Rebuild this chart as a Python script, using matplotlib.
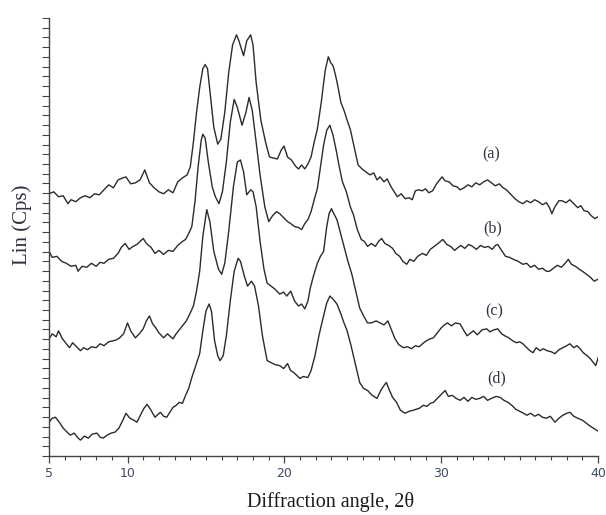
#!/usr/bin/env python3
"""XRD patterns (a)-(d), stacked, redrawn from the published figure."""

import matplotlib
matplotlib.use("Agg")
import matplotlib.pyplot as plt
from matplotlib.ticker import MultipleLocator, FixedLocator, NullFormatter

# ---------------------------------------------------------------- data
# (2theta, intensity in arbitrary Lin(Cps) units, offsets already stacked)

CURVE_A = [
    (5.0, 264), (5.3, 266), (5.6, 261), (5.9, 262), (6.2, 254), (6.4, 258),
    (6.7, 256), (7.0, 260), (7.3, 262), (7.6, 260), (7.9, 264), (8.2, 263),
    (8.5, 268), (8.8, 273), (9.1, 270), (9.4, 278), (9.7, 280), (9.9, 281),
    (10.2, 274), (10.5, 275), (10.8, 278), (11.1, 288), (11.4, 275), (11.7, 270),
    (12.0, 266), (12.3, 264), (12.6, 268), (12.9, 265), (13.2, 276), (13.5, 280),
    (13.8, 283), (14.0, 291), (14.2, 316), (14.4, 346), (14.6, 371), (14.8, 390),
    (14.95, 394), (15.1, 390), (15.3, 361), (15.5, 331), (15.75, 314), (15.95, 319),
    (16.2, 346), (16.45, 386), (16.7, 414), (16.95, 424), (17.1, 418), (17.4, 403),
    (17.6, 418), (17.85, 424), (18.0, 414), (18.2, 376), (18.5, 338), (18.8, 316),
    (19.05, 301), (19.3, 300), (19.55, 299), (19.8, 308), (19.98, 312), (20.2, 301),
    (20.45, 298), (20.7, 292), (20.9, 289), (21.1, 293), (21.3, 289), (21.5, 294),
    (21.7, 301), (21.9, 316), (22.1, 329), (22.35, 356), (22.6, 388), (22.8, 402),
    (22.95, 396), (23.1, 393), (23.25, 384), (23.4, 373), (23.6, 356), (23.8, 348),
    (24.0, 338), (24.2, 329), (24.45, 311), (24.7, 293), (24.95, 289), (25.2, 286),
    (25.45, 283), (25.7, 285), (25.9, 278), (26.1, 281), (26.35, 276), (26.55, 279),
    (26.8, 271), (27.0, 266), (27.2, 261), (27.45, 264), (27.7, 259), (27.95, 260),
    (28.15, 258), (28.35, 267), (28.55, 268), (28.8, 267), (29.0, 269), (29.2, 265),
    (29.45, 267), (29.7, 274), (29.9, 278), (30.05, 281), (30.25, 277), (30.5, 276),
    (30.75, 272), (31.0, 271), (31.2, 268), (31.45, 270), (31.7, 273), (31.95, 271),
    (32.2, 275), (32.45, 273), (32.7, 276), (32.95, 278), (33.2, 275), (33.45, 272),
    (33.7, 274), (33.95, 270), (34.15, 268), (34.4, 264), (34.7, 259), (34.95, 256),
    (35.2, 254), (35.45, 257), (35.7, 255), (35.95, 258), (36.2, 256), (36.45, 253),
    (36.7, 255), (36.9, 250), (37.05, 244), (37.25, 251), (37.5, 257), (37.7, 257),
    (37.95, 255), (38.2, 258), (38.45, 254), (38.7, 250), (38.9, 252), (39.1, 247),
    (39.35, 246), (39.55, 242), (39.8, 239), (40.0, 241),
]

CURVE_B = [
    (5.0, 206), (5.2, 200), (5.5, 201), (5.8, 196), (6.1, 194), (6.4, 191),
    (6.7, 192), (6.85, 186), (7.1, 191), (7.4, 190), (7.7, 194), (8.0, 191),
    (8.25, 195), (8.5, 194), (8.8, 198), (9.1, 199), (9.4, 204), (9.6, 210),
    (9.85, 214), (10.1, 208), (10.35, 211), (10.6, 213), (10.8, 216), (11.0, 219),
    (11.2, 214), (11.5, 210), (11.75, 204), (12.0, 207), (12.3, 203), (12.6, 207),
    (12.9, 206), (13.2, 212), (13.5, 216), (13.7, 218), (13.9, 224), (14.1, 231),
    (14.3, 256), (14.5, 291), (14.7, 318), (14.8, 324), (14.95, 320), (15.15, 296),
    (15.4, 271), (15.6, 261), (15.83, 254), (16.05, 266), (16.3, 296), (16.55, 336),
    (16.8, 359), (17.0, 351), (17.3, 333), (17.55, 346), (17.75, 361), (17.95, 348),
    (18.2, 316), (18.45, 283), (18.75, 251), (19.0, 236), (19.25, 242), (19.5, 246),
    (19.7, 244), (19.95, 240), (20.2, 236), (20.4, 234), (20.65, 231), (20.9, 230),
    (21.1, 228), (21.3, 234), (21.5, 238), (21.7, 246), (21.9, 258), (22.1, 269),
    (22.3, 291), (22.5, 313), (22.7, 328), (22.9, 333), (23.1, 323), (23.3, 308),
    (23.5, 291), (23.7, 276), (23.95, 266), (24.2, 251), (24.4, 243), (24.65, 228),
    (24.9, 218), (25.1, 216), (25.3, 211), (25.55, 214), (25.8, 211), (26.0, 216),
    (26.2, 219), (26.4, 214), (26.65, 212), (26.9, 209), (27.1, 204), (27.35, 201),
    (27.55, 196), (27.8, 193), (28.0, 198), (28.25, 196), (28.5, 201), (28.8, 204),
    (29.05, 202), (29.3, 208), (29.55, 211), (29.8, 214), (30.1, 218), (30.35, 213),
    (30.6, 211), (30.85, 207), (31.0, 209), (31.25, 212), (31.5, 209), (31.75, 213),
    (32.0, 211), (32.25, 208), (32.5, 212), (32.75, 210), (33.0, 211), (33.25, 208),
    (33.45, 212), (33.6, 213), (33.8, 208), (34.1, 201), (34.35, 200), (34.6, 198),
    (34.9, 196), (35.2, 193), (35.45, 194), (35.7, 190), (35.95, 192), (36.2, 188),
    (36.45, 189), (36.7, 186), (36.9, 186), (37.15, 189), (37.4, 192), (37.65, 190),
    (37.9, 194), (38.1, 198), (38.3, 193), (38.55, 191), (38.8, 188), (39.0, 186),
    (39.25, 183), (39.5, 180), (39.75, 176), (40.0, 178),
]

CURVE_C = [
    (5.0, 118), (5.2, 123), (5.45, 120), (5.6, 126), (5.85, 118), (6.1, 113),
    (6.3, 109), (6.5, 114), (6.75, 110), (7.0, 106), (7.2, 109), (7.45, 107),
    (7.7, 110), (8.0, 109), (8.25, 113), (8.5, 111), (8.8, 115), (9.1, 116),
    (9.3, 117), (9.5, 119), (9.75, 123), (10.0, 134), (10.2, 126), (10.5, 119),
    (10.75, 123), (11.0, 128), (11.2, 136), (11.4, 141), (11.6, 133), (11.8, 129),
    (12.0, 124), (12.3, 119), (12.55, 123), (12.75, 120), (12.9, 118), (13.1, 123),
    (13.35, 128), (13.5, 131), (13.75, 136), (14.0, 144), (14.2, 151), (14.4, 166),
    (14.6, 186), (14.8, 221), (15.05, 248), (15.25, 236), (15.5, 206), (15.8, 188),
    (16.0, 183), (16.2, 194), (16.45, 226), (16.75, 271), (17.0, 296), (17.2, 298),
    (17.4, 286), (17.6, 263), (17.85, 268), (18.0, 266), (18.2, 251), (18.45, 216),
    (18.7, 188), (18.9, 174), (19.15, 171), (19.4, 168), (19.7, 163), (19.95, 165),
    (20.15, 161), (20.4, 166), (20.65, 156), (20.9, 151), (21.1, 153), (21.3, 148),
    (21.5, 156), (21.65, 169), (21.85, 181), (22.1, 194), (22.3, 201), (22.5, 206),
    (22.7, 231), (22.85, 244), (23.0, 249), (23.15, 244), (23.35, 238), (23.55, 226),
    (23.8, 211), (24.05, 196), (24.3, 183), (24.55, 166), (24.8, 149), (25.05, 141),
    (25.3, 134), (25.55, 134), (25.85, 136), (26.1, 134), (26.35, 132), (26.6, 136),
    (26.8, 128), (27.05, 118), (27.3, 112), (27.6, 109), (27.85, 110), (28.1, 108),
    (28.35, 111), (28.6, 110), (28.8, 113), (29.05, 116), (29.3, 118), (29.5, 119),
    (29.75, 124), (30.0, 129), (30.2, 132), (30.4, 134), (30.65, 131), (30.9, 134),
    (31.2, 133), (31.45, 126), (31.65, 121), (31.8, 123), (32.05, 126), (32.3, 122),
    (32.6, 127), (32.9, 128), (33.1, 125), (33.35, 127), (33.6, 128), (33.85, 123),
    (34.05, 121), (34.3, 119), (34.55, 116), (34.8, 114), (35.0, 115), (35.2, 113),
    (35.45, 109), (35.65, 106), (35.85, 104), (36.05, 109), (36.3, 106), (36.5, 108),
    (36.75, 106), (37.0, 105), (37.25, 103), (37.5, 107), (37.75, 109), (38.0, 111),
    (38.2, 113), (38.45, 109), (38.65, 111), (38.85, 108), (39.05, 104), (39.3, 101),
    (39.5, 98), (39.7, 94), (39.85, 91), (40.0, 99),
]

CURVE_D = [
    (5.0, 34), (5.2, 38), (5.4, 39), (5.65, 34), (5.9, 28), (6.15, 24),
    (6.35, 21), (6.6, 23), (6.85, 18), (7.0, 16), (7.25, 20), (7.5, 18),
    (7.75, 22), (8.05, 23), (8.25, 19), (8.45, 18), (8.7, 21), (8.95, 23),
    (9.2, 24), (9.45, 28), (9.7, 36), (9.9, 43), (10.15, 38), (10.4, 36),
    (10.6, 34), (10.85, 42), (11.05, 48), (11.25, 52), (11.5, 46), (11.75, 39),
    (11.95, 42), (12.1, 44), (12.3, 40), (12.5, 39), (12.7, 44), (12.9, 49),
    (13.1, 51), (13.3, 54), (13.5, 53), (13.7, 61), (13.9, 68), (14.1, 79),
    (14.35, 91), (14.6, 103), (14.8, 126), (15.0, 146), (15.2, 153), (15.35, 146),
    (15.55, 116), (15.75, 101), (15.9, 96), (16.1, 101), (16.3, 121), (16.55, 156),
    (16.8, 186), (17.05, 199), (17.2, 196), (17.45, 181), (17.65, 171), (17.9, 176),
    (18.1, 171), (18.35, 151), (18.6, 121), (18.9, 96), (19.15, 94), (19.4, 92),
    (19.7, 91), (19.95, 88), (20.2, 93), (20.4, 86), (20.6, 84), (20.8, 81),
    (21.0, 78), (21.2, 80), (21.5, 79), (21.7, 86), (21.95, 101), (22.2, 121),
    (22.45, 138), (22.7, 154), (22.9, 161), (23.1, 158), (23.35, 153), (23.6, 143),
    (23.8, 134), (24.0, 126), (24.25, 111), (24.5, 94), (24.8, 74), (25.05, 68),
    (25.3, 66), (25.6, 61), (25.9, 58), (26.15, 66), (26.35, 71), (26.5, 74),
    (26.7, 66), (26.9, 59), (27.15, 54), (27.4, 46), (27.7, 43), (27.95, 45),
    (28.2, 46), (28.4, 47), (28.6, 48), (28.85, 51), (29.1, 50), (29.3, 53),
    (29.5, 54), (29.75, 58), (30.0, 62), (30.25, 66), (30.45, 60), (30.7, 61),
    (30.95, 58), (31.2, 56), (31.45, 59), (31.7, 55), (31.95, 59), (32.2, 57),
    (32.45, 58), (32.7, 60), (32.95, 56), (33.2, 58), (33.5, 60), (33.75, 59),
    (34.0, 56), (34.25, 54), (34.5, 51), (34.75, 47), (35.0, 45), (35.25, 43),
    (35.45, 41), (35.7, 43), (35.95, 40), (36.2, 42), (36.45, 39), (36.7, 38),
    (36.95, 40), (37.25, 34), (37.5, 38), (37.75, 41), (38.0, 43), (38.2, 44),
    (38.45, 40), (38.7, 38), (39.0, 36), (39.25, 33), (39.5, 30), (39.7, 28),
    (39.9, 26), (40.0, 25),
]

LABELS = ["(a)", "(b)", "(c)", "(d)"]
LABEL_POS = [(33.2, 304), (33.3, 229), (33.4, 146), (33.5, 78)]
X_TICKS = [5, 10, 20, 30, 40]

LINE = "#2b2b2b"
TXT = "#2e3240"
TICK_TXT = "#3d4a68"
SERIF = ["Liberation Serif", "DejaVu Serif"]

# ---------------------------------------------------------------- plot

fig = plt.figure(figsize=(6.06, 5.15), dpi=100)
ax = fig.add_axes([0.081, 0.1146, 0.906, 0.8505])

for curve in (CURVE_A, CURVE_B, CURVE_C, CURVE_D):
    xs, ys = zip(*curve)
    ax.plot(xs, ys, color=LINE, lw=1.0)

for text, (x, y) in zip(LABELS, LABEL_POS):
    ax.text(x, y, text, ha="center", va="center", fontsize=11.5,
            family=SERIF, color=TXT)

ax.set_xlim(5, 40)
ax.set_ylim(0, 441)
ax.xaxis.set_major_locator(FixedLocator(X_TICKS))
ax.xaxis.set_minor_locator(MultipleLocator(1))
ax.yaxis.set_major_locator(MultipleLocator(9.8))
ax.yaxis.set_major_formatter(NullFormatter())

for side in ("top", "right"):
    ax.spines[side].set_visible(False)
for side in ("left", "bottom"):
    ax.spines[side].set_color("#444444")
    ax.spines[side].set_linewidth(1.0)

ax.tick_params(axis="x", which="major", direction="out", length=5,
               width=0.9, pad=3, labelsize=9, colors="#444444",
               labelcolor=TICK_TXT)
ax.tick_params(axis="x", which="minor", direction="out", length=3,
               width=0.8, colors="#444444")
ax.tick_params(axis="y", which="major", direction="out", length=5,
               width=0.8, colors="#444444")

fig.text(0.036, 0.563, "Lin (Cps)", rotation=90, ha="center", va="center",
         fontsize=15, family=SERIF, color=TXT)
fig.text(0.545, 0.016, "Diffraction angle, 2\u03b8", ha="center",
         va="baseline", fontsize=14.5, family=SERIF, color="#1a1a1a")

fig.savefig("out.png", dpi=100)
